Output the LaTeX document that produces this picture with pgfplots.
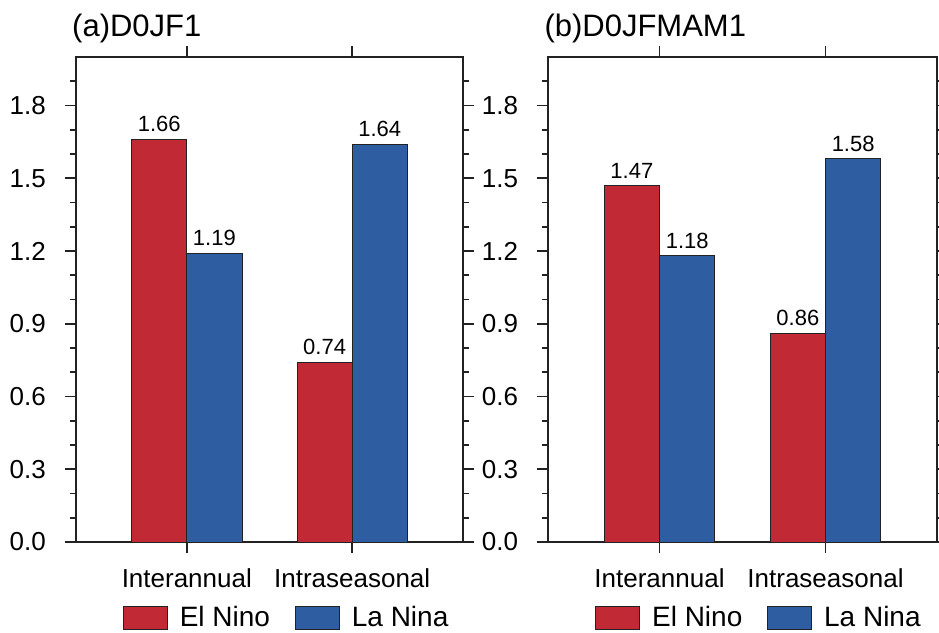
\documentclass[border=0pt]{standalone}
\usepackage{pgfplots}
\pgfplotsset{compat=1.18}
\usepackage{fontspec}
\setmainfont{Liberation Sans}
\definecolor{elred}{RGB}{193,41,53}
\definecolor{lablue}{RGB}{46,94,161}
\definecolor{frame}{RGB}{34,34,34}
\pgfplotsset{
  panel/.style={
    scale only axis,
    height=485pt,
    ybar=0pt,
    bar width=0.3333,
    xmin=0.33, xmax=2.67,
    ymin=0, ymax=2.0,
    xtick={1,2},
    xticklabels={Interannual,Intraseasonal},
    ytick={0,0.3,0.6,0.9,1.2,1.5,1.8},
    minor ytick={0.1,0.2,0.4,0.5,0.7,0.8,1.0,1.1,1.3,1.4,1.6,1.7,1.9},
    tick pos=both,
    tick align=outside,
    major tick length=11pt,
    minor tick length=6pt,
    axis line style={line width=2pt, frame},
    every tick/.style={line width=1.6pt, frame},
    yticklabel style={font=\fontsize{26}{30}\selectfont, inner sep=0pt, anchor=east, xshift=-19pt,
      /pgf/number format/.cd, fixed, fixed zerofill, precision=1, assume math mode=true},
    xticklabel style={font=\fontsize{26}{30}\selectfont, inner sep=0pt, anchor=base, yshift=-34pt},
    title style={at={(0,1)}, anchor=base west, inner sep=0pt, yshift=14pt, xshift=-4pt,
      font=\fontsize{31}{34}\selectfont},
    nodes near coords={\pgfmathprintnumber[fixed,fixed zerofill,precision=2,assume math mode=true]{\pgfplotspointmeta}},
    every node near coord/.append style={font=\fontsize{22}{26}\selectfont, inner sep=0pt, anchor=south, yshift=7pt, text=black},
    clip=false,
    legend columns=2,
    legend style={at={(axis description cs:0,0)}, anchor=north west, xshift=47pt, yshift=-64pt,
      draw=none, fill=none, inner sep=0pt, outer sep=0pt,
      font=\fontsize{28}{32}\selectfont,
      cells={anchor=base west},
      nodes={inner sep=0pt},
      /tikz/every odd column/.style={column sep=12pt},
      /tikz/every even column/.style={column sep=25pt}},
    legend image code/.code={\draw[##1, line width=0.8pt] (0pt,-3pt) rectangle (44pt,20pt);},
  }
}
\begin{document}
\begin{tikzpicture}
\useasboundingbox (0,0) rectangle (939pt,632pt);
\begin{axis}[panel, width=387pt, at={(76pt,90pt)}, anchor=south west, title={(a)D0JF1}]
\addplot[fill=elred, draw=frame, line width=0.8pt] coordinates {(1,1.66) (2,0.74)};
\addplot[fill=lablue, draw=frame, line width=0.8pt] coordinates {(1,1.19) (2,1.64)};
\legend{El Nino, La Nina}
\end{axis}
\begin{axis}[panel, width=388.4pt, at={(548.3pt,90pt)}, anchor=south west, title={(b)D0JFMAM1}]
\addplot[fill=elred, draw=frame, line width=0.8pt] coordinates {(1,1.47) (2,0.86)};
\addplot[fill=lablue, draw=frame, line width=0.8pt] coordinates {(1,1.18) (2,1.58)};
\legend{El Nino, La Nina}
\end{axis}
\end{tikzpicture}
\end{document}
